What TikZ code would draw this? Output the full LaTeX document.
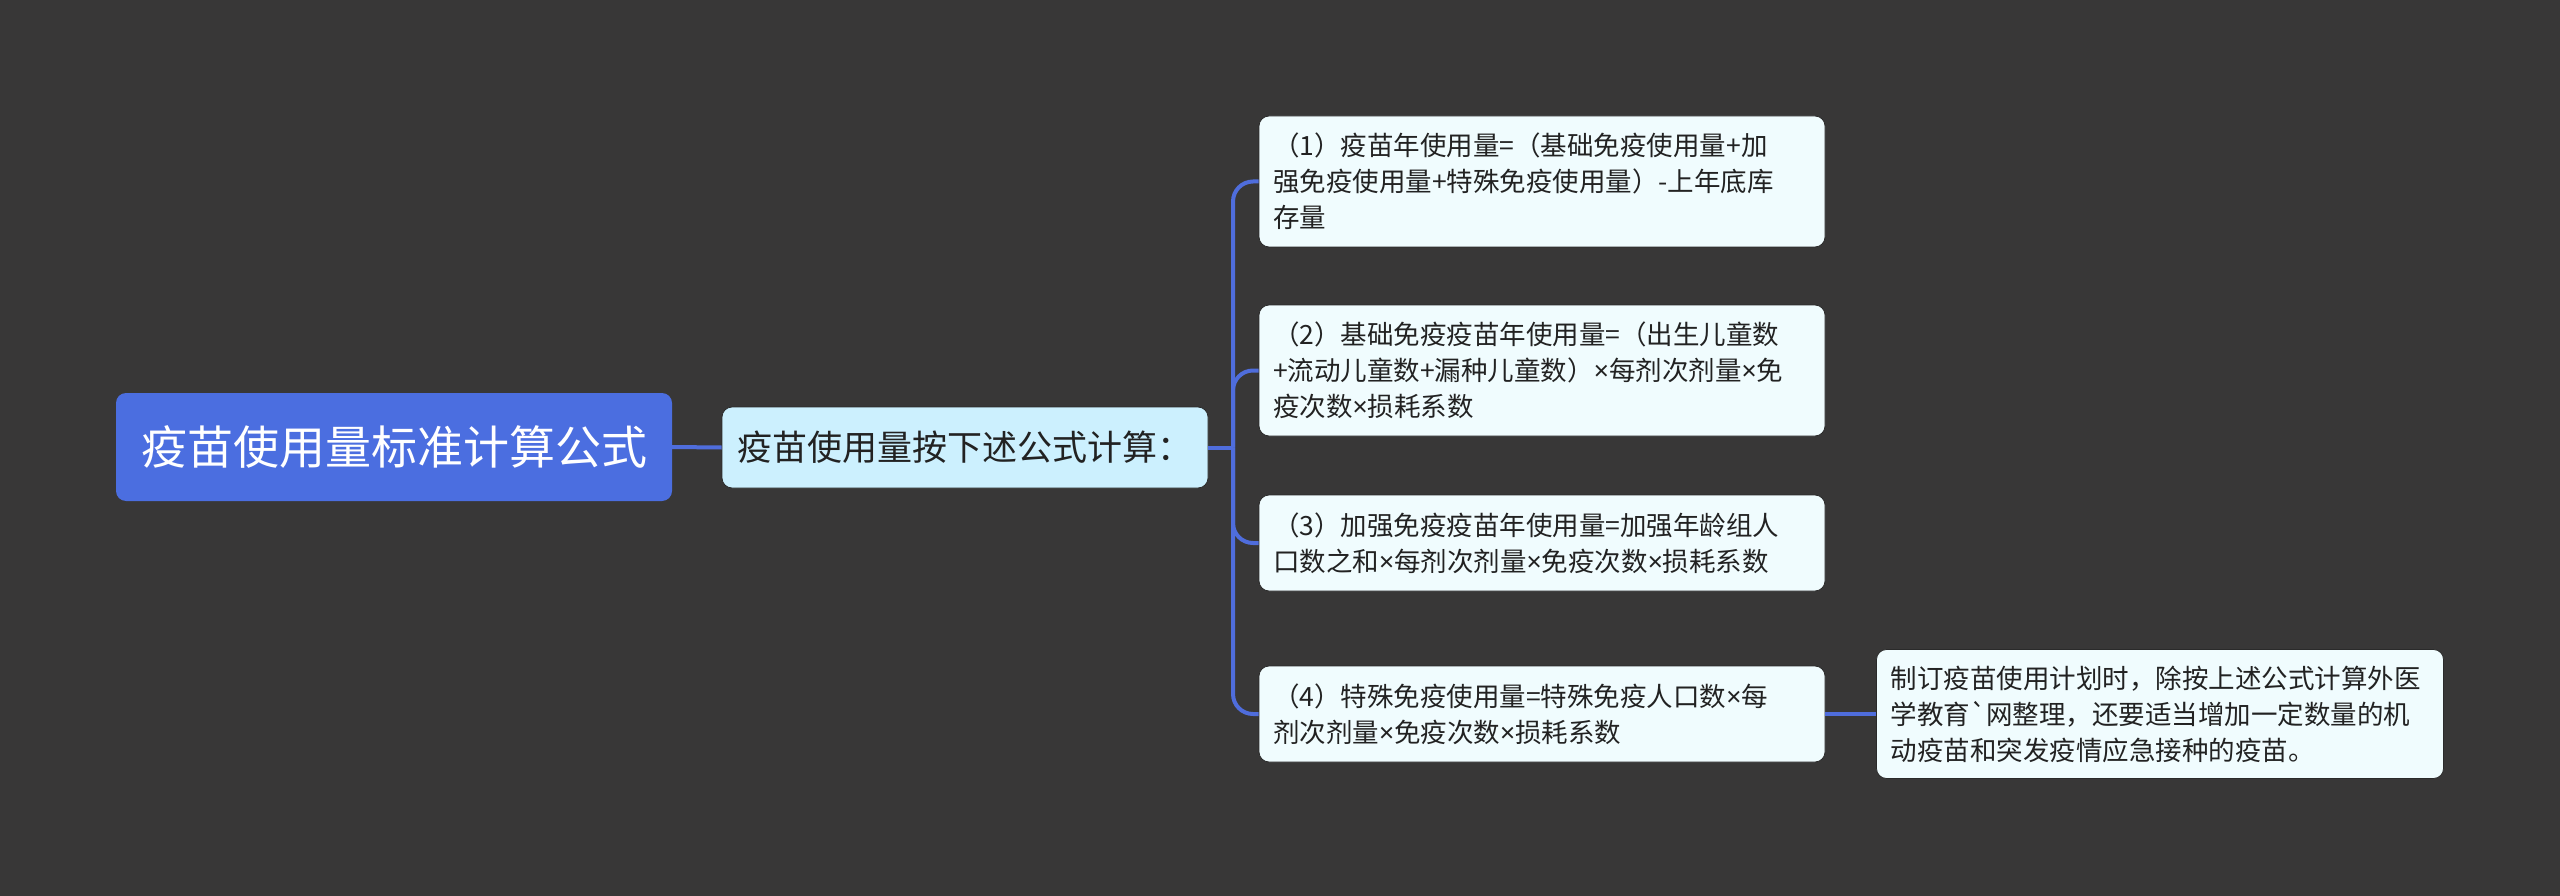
\documentclass[tikz,border=0pt]{standalone}
\usepackage{fontspec}
\setmainfont{Noto Sans CJK SC}[Ligatures=TeXOff]
\newfontfamily\latinfont{Noto Sans}
\newcommand{\mymul}{{\latinfont ×}}
\definecolor{bg}{HTML}{383737}
\definecolor{rootfill}{HTML}{4B6EE0}
\definecolor{midfill}{HTML}{CCF0FE}
\definecolor{leaffill}{HTML}{F0FCFE}
\definecolor{edgeline}{HTML}{2A2A2A}
\definecolor{conncol}{HTML}{4F6DDC}
\definecolor{txt}{HTML}{222222}
\begin{document}
\begin{tikzpicture}[x=1pt,y=-1pt,
  box/.style={rectangle, rounded corners=10pt, inner ysep=0pt, anchor=center},
  leaf/.style={box, fill=leaffill, draw=edgeline, line width=0.8pt, text=txt, align=left,
    inner xsep=14pt, font=\fontsize{26.5}{36}\selectfont, minimum width=566pt, text width=538pt},
  conn/.style={draw=conncol, line width=4pt},
  branch/.style={conn, rounded corners=20pt}]
\fill[bg] (0,0) rectangle (2560,896);
\useasboundingbox (0,0) rectangle (2560,896);

\node[box, fill=rootfill, text=white, font=\fontsize{46}{54}\selectfont,
  minimum width=556pt, minimum height=108pt] (root) at (394,447) {疫苗使用量标准计算公式};
\node[box, fill=midfill, draw=edgeline, line width=0.8pt, text=txt, font=\fontsize{35}{42}\selectfont,
  minimum width=486pt, minimum height=81pt, inner xsep=14pt] (mid) at (965,447.5) {疫苗使用量按下述公式计算：};

\node[leaf, minimum height=131pt] (c1) at (1542,181.5)
  {（1）疫苗年使用量=（基础免疫使用量+加\\强免疫使用量+特殊免疫使用量）-上年底库\\存量};
\node[leaf, minimum height=131pt] (c2) at (1542,370.5)
  {（2）基础免疫疫苗年使用量=（出生儿童数\\+流动儿童数+漏种儿童数）\mymul 每剂次剂量\mymul 免\\疫次数\mymul 损耗系数};
\node[leaf, minimum height=96pt] (c3) at (1542,543)
  {（3）加强免疫疫苗年使用量=加强年龄组人\\口数之和\mymul 每剂次剂量\mymul 免疫次数\mymul 损耗系数};
\node[leaf, minimum height=96pt] (c4) at (1542,714)
  {（4）特殊免疫使用量=特殊免疫人口数\mymul 每\\剂次剂量\mymul 免疫次数\mymul 损耗系数};
\node[leaf, minimum height=129pt, minimum width=567pt, text width=539pt] (c5) at (2160,714)
  {制订疫苗使用计划时，除按上述公式计算外医\\学教育`网整理，还要适当增加一定数量的机\\动疫苗和突发疫情应急接种的疫苗。};

\coordinate (t) at (1233,447.5);
\draw[conn] (root.east) -- (mid.west);
\draw[conn] (mid.east) -- (t);
\draw[branch] (t) |- (c1.west);
\draw[branch] (t) |- (c2.west);
\draw[branch] (t) |- (c3.west);
\draw[branch] (t) |- (c4.west);
\draw[conn] (c4.east) -- (c5.west);
\end{tikzpicture}
\end{document}
